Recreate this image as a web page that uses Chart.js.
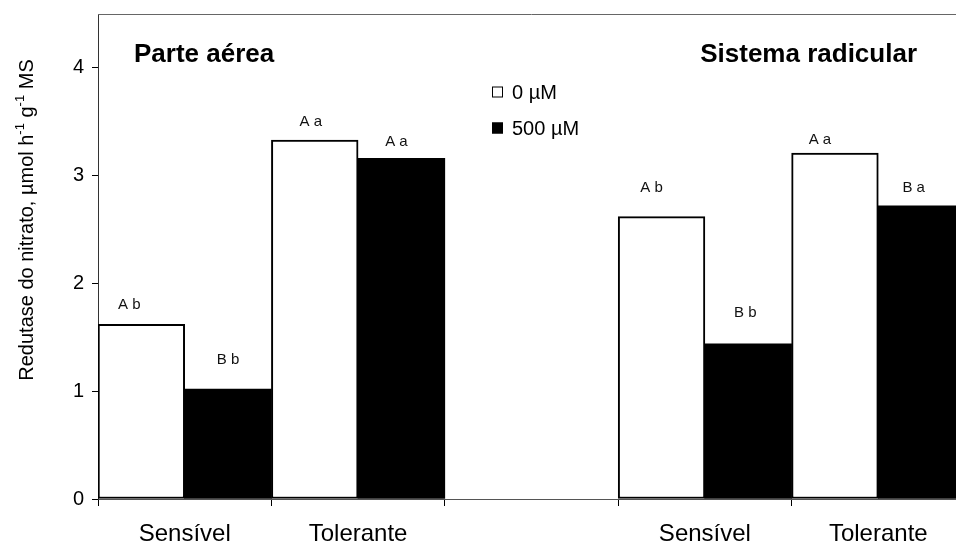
<!DOCTYPE html>
<html>
<head>
<meta charset="utf-8">
<script src="https://cdn.jsdelivr.net/npm/chart.js@4/dist/chart.umd.min.js"></script>
<style>
  html, body { margin: 0; padding: 0; background: #fff; }
  #wrap { width: 956px; height: 545px; overflow: hidden; position: relative; }
  canvas { display: block; }
</style>
</head>
<body>
<div id="wrap"><canvas id="c" width="980" height="545"></canvas></div>
<script>
// Nitrate reductase activity (µmol h-1 g-1 MS), shoots vs roots
const organs = ['Parte aérea', 'Sistema radicular'];
const genotypes = ['Sensível', 'Tolerante'];
const doses = ['0 µM', '500 µM'];

// values in genotype order: Sensível, Tolerante
const aerea0 = [1.62, 3.33];
const aerea500 = [1.02, 3.16];
const radicular0 = [2.62, 3.21];
const radicular500 = [1.44, 2.72];

// mean-comparison letters above each bar
const aereaLetters0 = ['A b', 'A a'];
const aereaLetters500 = ['B b', 'A a'];
const radicularLetters0 = ['A b', 'A a'];
const radicularLetters500 = ['B b', 'B a'];

const yTicks = [0, 1, 2, 3, 4];

// one empty category separates the two organs
const labels = [...genotypes, '', ...genotypes];
const data0 = [...aerea0, null, ...radicular0];
const data500 = [...aerea500, null, ...radicular500];
const letters = [
  [...aereaLetters0, null, ...radicularLetters0],
  [...aereaLetters500, null, ...radicularLetters500]
];

const FONT = "'Liberation Sans', Arial, Helvetica, sans-serif";

// label nudges (dx, dy from bar centre / top), per dataset
const letterNudge = [
  [[-12, -20], [-4, -18], null, [-10, -29], [-15, -13]],
  [[0, -29], [-5, -17], null, [-3, -31], [-8, -18]]
];

const decorations = {
  id: 'decorations',
  afterDatasetsDraw(chart) {
    const ctx = chart.ctx;
    const area = chart.chartArea;
    ctx.save();

    // top frame line
    ctx.strokeStyle = '#666';
    ctx.lineWidth = 1;
    ctx.beginPath();
    ctx.moveTo(area.left, area.top + 0.5);
    ctx.lineTo(area.right, area.top + 0.5);
    ctx.stroke();

    // letters above bars
    ctx.fillStyle = '#111';
    ctx.font = '15px ' + FONT;
    ctx.textAlign = 'center';
    ctx.textBaseline = 'middle';
    chart.data.datasets.forEach((ds, di) => {
      const meta = chart.getDatasetMeta(di);
      meta.data.forEach((bar, i) => {
        const txt = letters[di][i];
        if (!txt) return;
        const n = letterNudge[di][i] || [0, -20];
        ctx.fillText(txt, bar.x + n[0], bar.y + n[1]);
      });
    });

    // panel titles
    ctx.fillStyle = '#000';
    ctx.font = 'bold 26px ' + FONT;
    ctx.textBaseline = 'alphabetic';
    ctx.textAlign = 'left';
    ctx.fillText(organs[0], 134, 62);
    ctx.textAlign = 'right';
    ctx.fillText(organs[1], 917, 62);

    // legend
    const lx = 492, ly = [92, 128];
    ctx.font = '20px ' + FONT;
    ctx.textAlign = 'left';
    ctx.textBaseline = 'middle';
    chart.data.datasets.forEach((ds, di) => {
      const cy = ly[di];
      ctx.fillStyle = ds.backgroundColor;
      ctx.fillRect(lx, cy - 5.5, 11, 11);
      ctx.strokeStyle = '#000';
      ctx.lineWidth = 1;
      ctx.strokeRect(lx + 0.5, cy - 5, 10, 10);
      ctx.fillStyle = '#000';
      ctx.fillText(ds.label, 512, cy + 1);
    });

    // y axis title with superscripts
    const parts = [
      ['Redutase do nitrato, µmol h', false],
      ['-1', true],
      [' g', false],
      ['-1', true],
      [' MS', false]
    ];
    const big = '20px ' + FONT, small = '13px ' + FONT;
    let total = 0;
    parts.forEach(p => { ctx.font = p[1] ? small : big; total += ctx.measureText(p[0]).width; });
    ctx.translate(33, 220);
    ctx.rotate(-Math.PI / 2);
    ctx.textAlign = 'left';
    ctx.textBaseline = 'alphabetic';
    let x = -total / 2;
    parts.forEach(p => {
      ctx.font = p[1] ? small : big;
      ctx.fillText(p[0], x, p[1] ? -9 : 0);
      x += ctx.measureText(p[0]).width;
    });
    ctx.restore();
  }
};

new Chart(document.getElementById('c'), {
  type: 'bar',
  data: {
    labels: labels,
    datasets: [
      { label: doses[0], data: data0, backgroundColor: '#ffffff', borderColor: '#000000', borderWidth: 2, borderSkipped: false },
      { label: doses[1], data: data500, backgroundColor: '#000000', borderColor: '#000000', borderWidth: 0 }
    ]
  },
  options: {
    responsive: false,
    devicePixelRatio: 1,
    animation: false,
    layout: { padding: { top: 14, right: 15, left: 0, bottom: 0 } },
    datasets: { bar: { categoryPercentage: 1, barPercentage: 1 } },
    plugins: { legend: { display: false }, tooltip: { enabled: false } },
    scales: {
      x: {
        offset: true,
        grid: { offset: true, drawOnChartArea: false, tickLength: 7, color: '#000', lineWidth: 1 },
        border: { color: '#555', width: 1 },
        ticks: { font: { family: FONT, size: 24 }, color: '#000', padding: 14, maxRotation: 0, autoSkip: false },
        afterFit(s) { s.height = 46; s.paddingLeft = 0; s.paddingRight = 0; }
      },
      y: {
        min: 0,
        max: 4.5,
        grid: { drawOnChartArea: false, tickLength: 6, color: '#000', lineWidth: 1 },
        border: { color: '#333', width: 1 },
        ticks: { font: { family: FONT, size: 20 }, color: '#000', padding: 8 },
        afterBuildTicks(s) { s.ticks = yTicks.map(v => ({ value: v })); },
        afterFit(s) { s.width = 98; s.paddingTop = 0; s.paddingBottom = 0; }
      }
    }
  },
  plugins: [decorations]
});
</script>
</body>
</html>
